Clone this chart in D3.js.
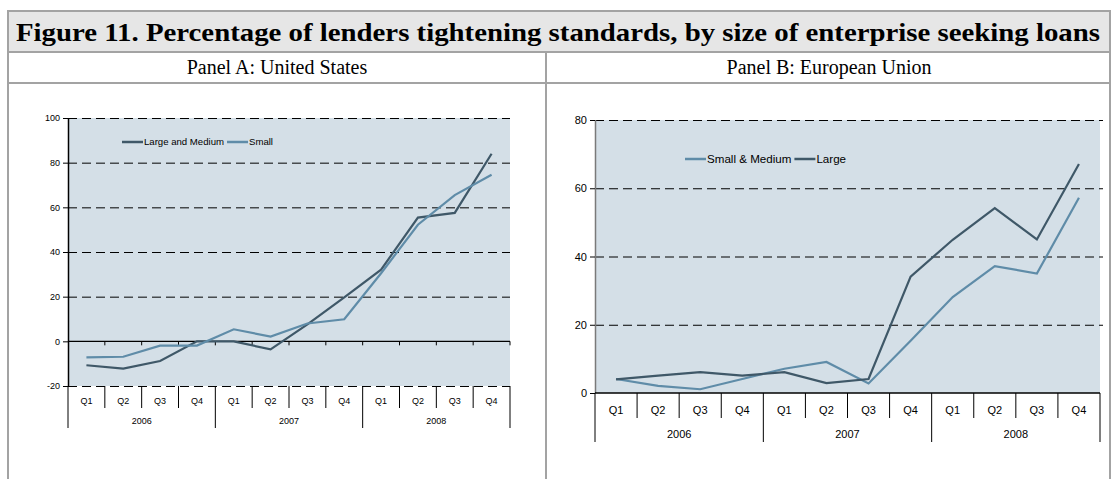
<!DOCTYPE html>
<html><head><meta charset="utf-8">
<script src="https://cdn.jsdelivr.net/npm/d3@7"></script>
<style>body{margin:0;background:#fff}svg{display:block}</style>
</head><body>
<svg id="c" width="1115" height="479"></svg>
<script>
// ---- data ----
const years = ["2006", "2007", "2008"];
const quarters = ["Q1", "Q2", "Q3", "Q4"];
const usLargeMedium = [-10.7, -12.2, -8.8, 0, 0, -3.6, 7.6, 19.7, 32.1, 55.4, 57.5, 84];
const usSmall = [-7.2, -6.9, -1.9, -1.9, 5.4, 2.1, 8, 9.9, 30.5, 52.2, 65.5, 74.6];
const euSmallMedium = [4.1, 2.1, 1.1, 4.1, 7.1, 9.1, 2.8, 15.3, 28.1, 37.2, 35, 57.2];
const euLarge = [4, 5.1, 6.1, 5.1, 6.1, 2.9, 4.1, 34.1, 44.9, 54.2, 45, 67.1];
const usTicks = [-20, 0, 20, 40, 60, 80, 100];
const euTicks = [0, 20, 40, 60, 80];

const DARK = "#3f5868", LIGHT = "#5f8ca8", BG = "#d4dfe7";
const svg = d3.select("#c");
const keys = [];
years.forEach(y => quarters.forEach(q => keys.push(y + "-" + q)));

// ---- table frame ----
const BORDER = "#a3a3a3";
svg.append("rect").attr("x", 8).attr("y", 11).attr("width", 1102).attr("height", 41).attr("fill", "#e6e6e6");
svg.append("rect").attr("x", 8).attr("y", 11).attr("width", 1102).attr("height", 480)
  .attr("fill", "none").attr("stroke", BORDER).attr("stroke-width", 2);
svg.append("line").attr("x1", 8).attr("x2", 1110).attr("y1", 52).attr("y2", 52).attr("stroke", BORDER).attr("stroke-width", 2);
svg.append("line").attr("x1", 8).attr("x2", 1110).attr("y1", 83).attr("y2", 83).attr("stroke", BORDER).attr("stroke-width", 2);
svg.append("line").attr("x1", 546).attr("x2", 546).attr("y1", 52).attr("y2", 479).attr("stroke", BORDER).attr("stroke-width", 2);

svg.append("text").attr("x", 558).attr("y", 41).attr("text-anchor", "middle")
  .attr("font-family", "Liberation Serif").attr("font-weight", "bold").attr("font-size", 26)
  .attr("textLength", 1084).attr("lengthAdjust", "spacingAndGlyphs")
  .text("Figure 11. Percentage of lenders tightening standards, by size of enterprise seeking loans");
svg.append("text").attr("x", 277).attr("y", 74).attr("text-anchor", "middle")
  .attr("font-family", "Liberation Serif").attr("font-size", 20).text("Panel A: United States");
svg.append("text").attr("x", 829).attr("y", 74).attr("text-anchor", "middle")
  .attr("font-family", "Liberation Serif").attr("font-size", 20).text("Panel B: European Union");

function panel(cfg) {
  const g = svg.append("g");
  const x = d3.scaleBand().domain(keys).range([cfg.x0, cfg.x1]).paddingInner(0).paddingOuter(0);
  const y = d3.scaleLinear().domain(cfg.domain).range([cfg.yb, cfg.yt]);
  const catY = y(cfg.domain[0]);
  const fs = cfg.fontSize;
  // background
  g.append("rect").attr("x", cfg.x0).attr("y", y(cfg.domain[1])).attr("width", cfg.x1 - cfg.x0)
    .attr("height", y(cfg.domain[0]) - y(cfg.domain[1])).attr("fill", BG);
  // grid
  const grid = g.append("g").attr("transform", `translate(${cfg.x0},0)`)
    .call(d3.axisLeft(y).tickValues(cfg.ticks.filter(t => t !== 0)).tickSize(-(cfg.x1 - cfg.x0 + cfg.gridExtra)).tickFormat(""));
  grid.select(".domain").remove();
  grid.selectAll("line").attr("stroke", "#000").attr("stroke-dasharray", "9,5").attr("stroke-width", 1);
  // y axis
  const ya = g.append("g").attr("transform", `translate(${cfg.x0},0)`)
    .call(d3.axisLeft(y).tickValues(cfg.ticks).tickSize(5).tickPadding(3).tickFormat(d => String(d)));
  ya.select(".domain").attr("stroke", cfg.yAxisColor).attr("stroke-width", 1.5).attr("d", `M0.5,${y(cfg.domain[0])}V${y(cfg.domain[1])}`);
  ya.selectAll(".tick line").attr("stroke", "#000");
  ya.selectAll("text").attr("font-family", "Liberation Sans").attr("font-size", fs).attr("fill", "#000");
  // zero line (category axis crossing)
  g.append("line").attr("x1", cfg.x0).attr("x2", cfg.x1).attr("y1", y(0)).attr("y2", y(0))
    .attr("stroke", "#000").attr("stroke-width", 1.3);
  if (cfg.domain[0] < 0) {
    g.selectAll(".zt").data(keys.slice(1).concat(["end"])).join("line")
      .attr("x1", d => d === "end" ? cfg.x1 : x(d)).attr("x2", d => d === "end" ? cfg.x1 : x(d))
      .attr("y1", y(0)).attr("y2", y(0) + 4).attr("stroke", "#000");
  }
  // category axis lines
  const bounds = keys.map((k, i) => ({ xv: x(k), major: i % 4 === 0 }));
  bounds.push({ xv: cfg.x1, major: true });
  g.selectAll(".cb").data(bounds).join("line")
    .attr("x1", d => d.xv).attr("x2", d => d.xv)
    .attr("y1", catY).attr("y2", d => catY + (d.major ? cfg.longTick : cfg.shortTick))
    .attr("stroke", "#000").attr("stroke-width", 1);
  g.selectAll(".ql").data(keys).join("text")
    .attr("x", d => x(d) + x.bandwidth() / 2).attr("y", catY + cfg.qOff).attr("text-anchor", "middle")
    .attr("font-family", "Liberation Sans").attr("font-size", fs).text(d => d.split("-")[1]);
  g.selectAll(".yl").data(years).join("text")
    .attr("x", d => x(d + "-Q1") + 2 * x.bandwidth()).attr("y", catY + cfg.yOff).attr("text-anchor", "middle")
    .attr("font-family", "Liberation Sans").attr("font-size", fs).text(d => d);
  // lines
  const line = d3.line().x((d, i) => x(keys[i]) + x.bandwidth() / 2).y(d => y(d));
  cfg.series.forEach(s => {
    g.append("path").datum(s.values).attr("d", line).attr("fill", "none")
      .attr("stroke", s.color).attr("stroke-width", 2.2).attr("stroke-linejoin", "miter");
  });
  // legend
  let lx = cfg.legX;
  cfg.series.slice().sort((a, b) => a.legOrder - b.legOrder).forEach(s => {
    g.append("line").attr("x1", lx).attr("x2", lx + 21).attr("y1", cfg.legY).attr("y2", cfg.legY)
      .attr("stroke", s.color).attr("stroke-width", 2.5);
    const t = g.append("text").attr("x", lx + 22).attr("y", cfg.legY + cfg.legFont * 0.36)
      .attr("font-family", "Liberation Sans").attr("font-size", cfg.legFont).text(s.name);
    lx += 22 + t.node().getComputedTextLength() + 3;
  });
}

panel({
  x0: 68, x1: 510, yt: 118, yb: 386, domain: [-20, 100], ticks: usTicks, gridExtra: 0,
  yAxisColor: "#000", shortTick: 22, longTick: 42, qOff: 18, yOff: 38, fontSize: 9,
  legX: 122, legY: 142, legFont: 9.6,
  series: [
    { name: "Large and Medium", values: usLargeMedium, color: DARK, legOrder: 0 },
    { name: "Small", values: usSmall, color: LIGHT, legOrder: 1 }
  ]
});
panel({
  x0: 595, x1: 1100, yt: 120, yb: 393, domain: [0, 80], ticks: euTicks, gridExtra: 3,
  yAxisColor: "#7a7a7a", shortTick: 25, longTick: 49, qOff: 21, yOff: 45, fontSize: 11,
  legX: 685, legY: 159, legFont: 11.6,
  series: [
    { name: "Small & Medium", values: euSmallMedium, color: LIGHT, legOrder: 0 },
    { name: "Large", values: euLarge, color: DARK, legOrder: 1 }
  ]
});
</script>
</body></html>
